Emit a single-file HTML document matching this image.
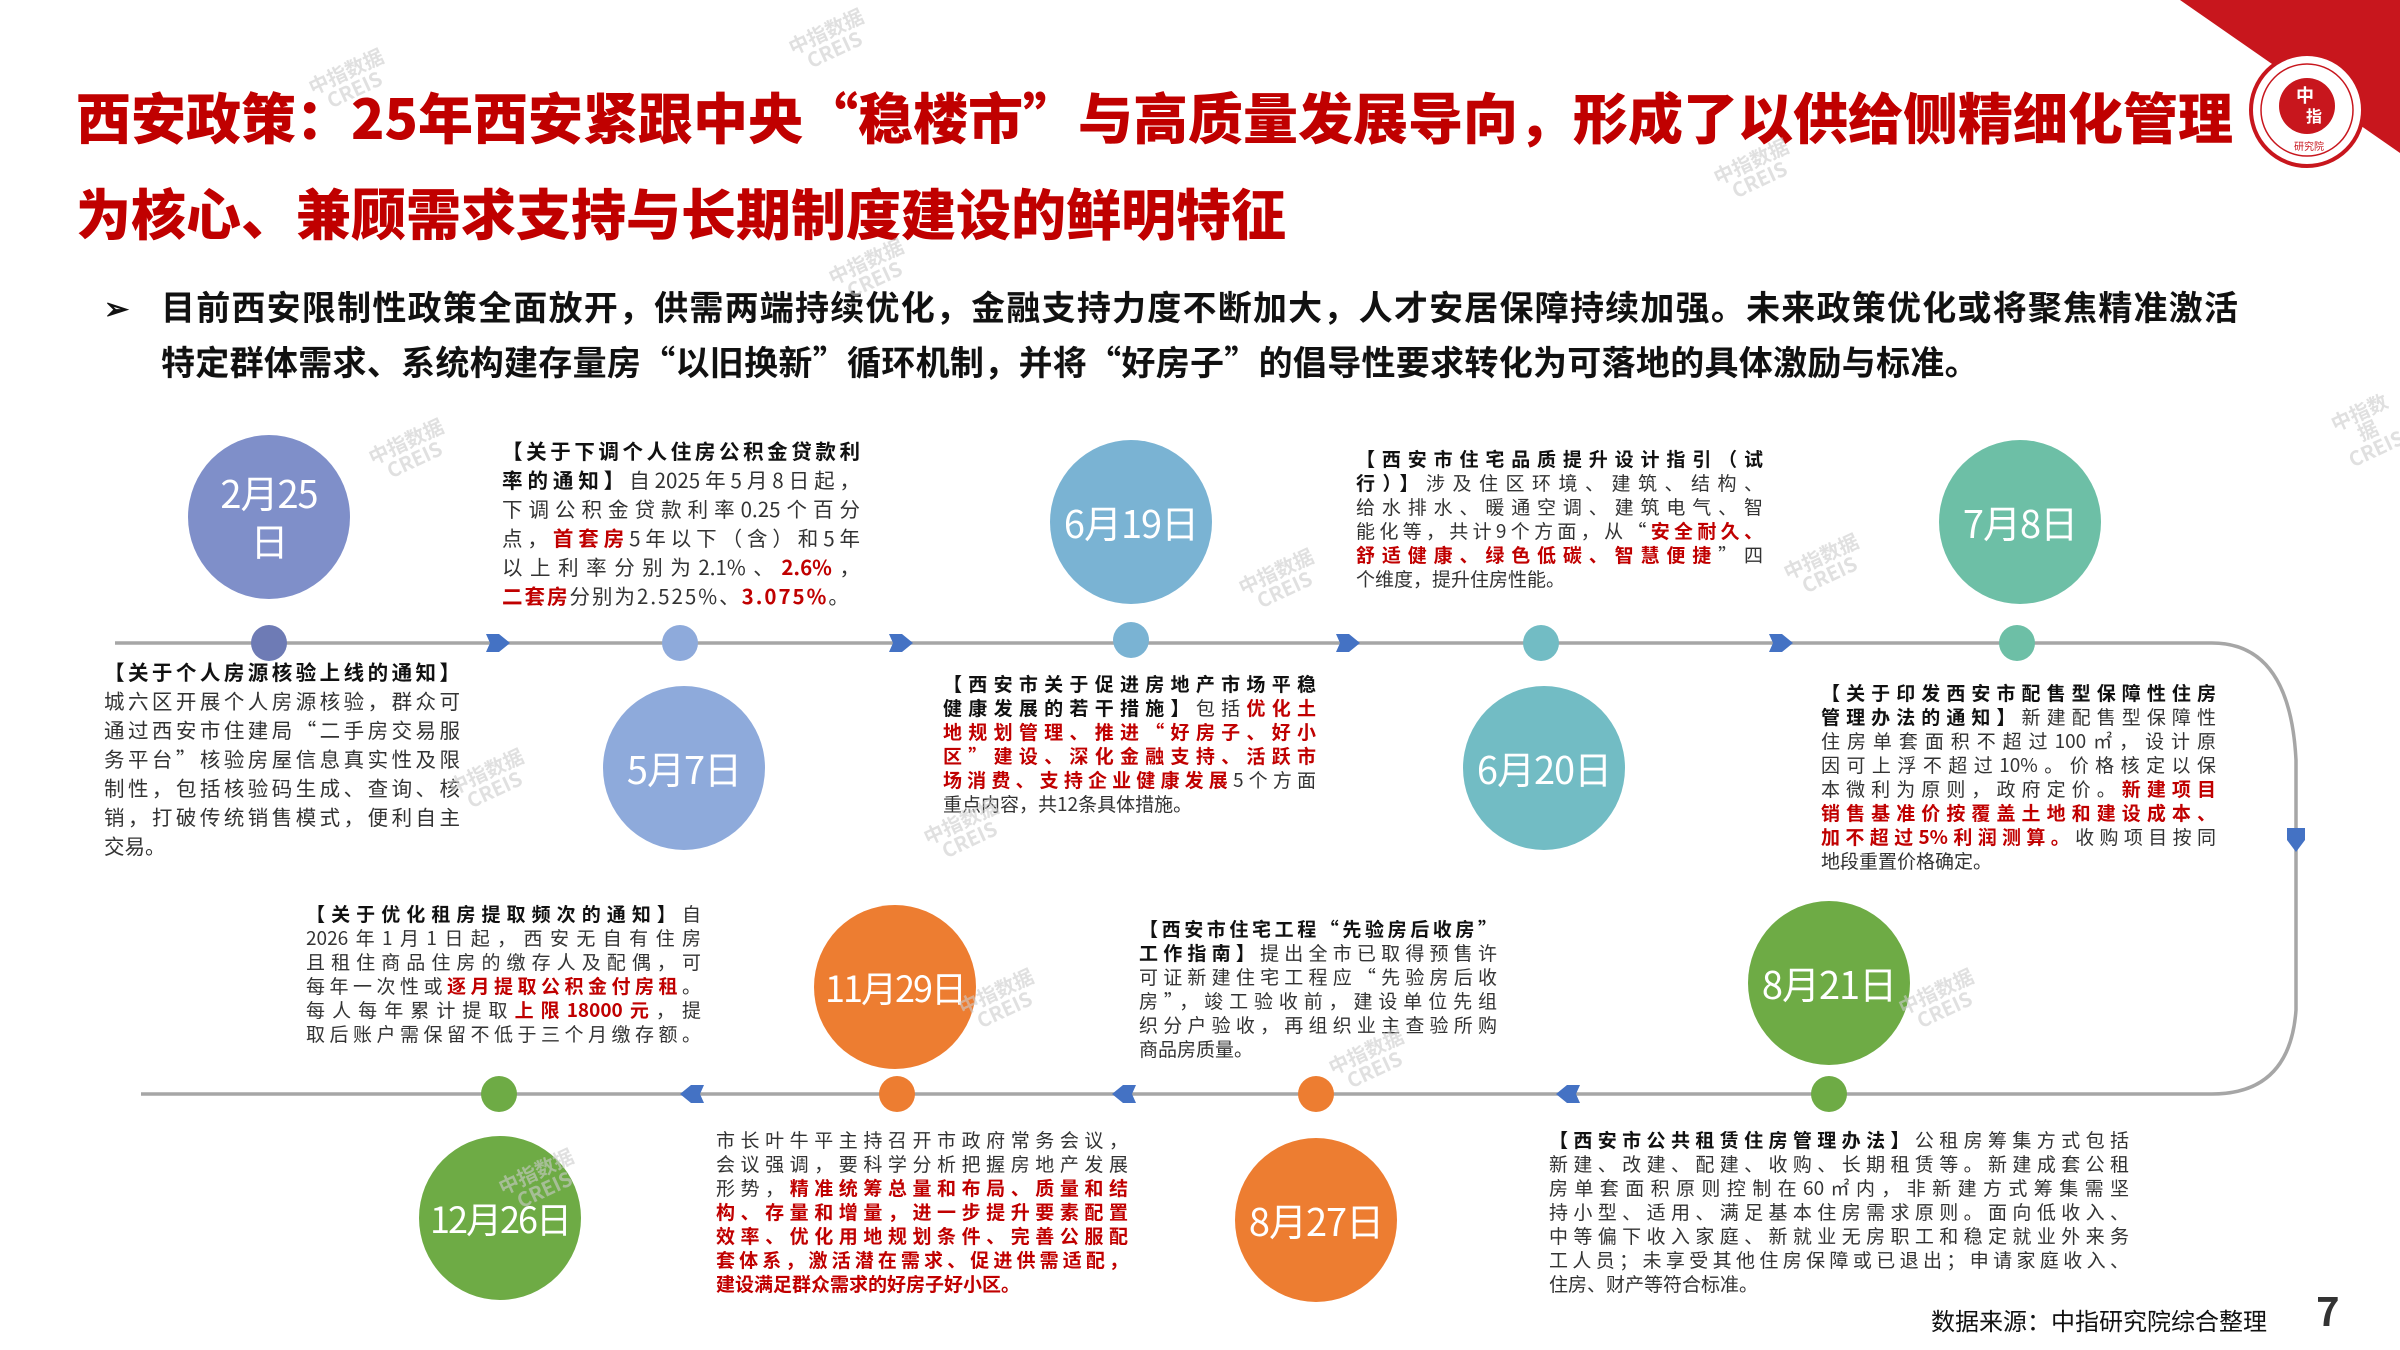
<!DOCTYPE html>
<html><head><meta charset="utf-8"><style>
*{margin:0;padding:0;box-sizing:border-box}
body{width:2400px;height:1350px;background:#fff;position:relative;overflow:hidden;font-family:"Noto Sans CJK SC","Liberation Sans",sans-serif;color:#333}
.t{position:absolute;left:76px;color:#c00000;font-weight:900;font-size:55px;white-space:nowrap;line-height:70px}
.b{position:absolute;left:161px;font-weight:700;font-size:34px;color:#111;white-space:nowrap;line-height:50px}
.blk{position:absolute;font-size:19px;color:#333;line-height:24px}
.blk div{text-align:justify;text-align-last:justify;white-space:nowrap;overflow:visible;height:24px}
.blk div.l{text-align-last:left}
.blk.big{font-size:20.5px;line-height:29px}
.blk.big div{height:29px}
.blk b{color:#111}
.r{color:#c00000;font-weight:700}
.dt{position:absolute;color:#fff;font-size:38px;text-align:center;width:170px;line-height:48px;font-weight:400;letter-spacing:-1px}
.wm{position:absolute;color:#ccc;font-size:20px;transform:rotate(-25deg);opacity:.6;line-height:20px;text-align:center;font-weight:700}
</style></head><body>
<svg width="2400" height="1350" style="position:absolute;left:0;top:0">
<polygon points="2180,0 2400,0 2400,153" fill="#c8161d"/>
<circle cx="2307" cy="110" r="56" fill="#fff" stroke="#c8161d" stroke-width="4"/>
<circle cx="2307" cy="110" r="46" fill="none" stroke="#c8161d" stroke-width="1.5"/>
<circle cx="2307" cy="106" r="28" fill="#c8161d"/>
<text x="2296" y="102" fill="#fff" font-size="18" font-weight="700" font-family="Noto Sans CJK SC">中</text>
<text x="2306" y="122" fill="#fff" font-size="16" font-weight="700" font-family="Noto Sans CJK SC">指</text>
<text x="2294" y="150" fill="#c8161d" font-size="10" font-family="Noto Sans CJK SC">研究院</text>
<g stroke="#a6a6a6" stroke-width="3.5" fill="none">
<line x1="115" y1="643" x2="2212" y2="643"/>
<path d="M2212,643 Q2290,643 2296,760 L2296,1010 Q2290,1094 2212,1094"/>
<line x1="141" y1="1094" x2="2212" y2="1094"/>
</g>
<g fill="#4472c4">
<polygon points="486,634 499,634 510,643 499,652 486,652 490,643"/>
<polygon points="889,634 902,634 913,643 902,652 889,652 893,643"/>
<polygon points="1336,634 1349,634 1360,643 1349,652 1336,652 1340,643"/>
<polygon points="1769,634 1782,634 1793,643 1782,652 1769,652 1773,643"/>
<polygon points="1580,1085 1567,1085 1556,1094 1567,1103 1580,1103 1576,1094"/>
<polygon points="1136,1085 1123,1085 1112,1094 1123,1103 1136,1103 1132,1094"/>
<polygon points="704,1085 691,1085 680,1094 691,1103 704,1103 700,1094"/>
<polygon points="2287,828 2305,828 2305,840 2296,852 2287,840"/>
</g>
<g>
<ellipse cx="269" cy="517" rx="81" ry="82" fill="#7f8fc9"/><circle cx="269" cy="643" r="18" fill="#6e7bb5"/>
<ellipse cx="684" cy="768" rx="81" ry="82" fill="#8eaadb"/><circle cx="680" cy="643" r="18" fill="#8eaadb"/>
<ellipse cx="1131" cy="522" rx="81" ry="82" fill="#7ab3d3"/><circle cx="1131" cy="640" r="18" fill="#7ab3d3"/>
<ellipse cx="1544" cy="768" rx="81" ry="82" fill="#72bcc4"/><circle cx="1541" cy="643" r="18" fill="#72bcc4"/>
<ellipse cx="2020" cy="522" rx="81" ry="82" fill="#6dbfa6"/><circle cx="2017" cy="643" r="18" fill="#6dbfa6"/>
<ellipse cx="1829" cy="983" rx="81" ry="82" fill="#6eab45"/><circle cx="1829" cy="1094" r="18" fill="#6eab45"/>
<ellipse cx="895" cy="987" rx="81" ry="82" fill="#ed7d31"/><circle cx="897" cy="1094" r="18" fill="#ed7d31"/>
<ellipse cx="1316" cy="1220" rx="81" ry="82" fill="#ed7d31"/><circle cx="1316" cy="1094" r="18" fill="#ed7d31"/>
<ellipse cx="500" cy="1218" rx="81" ry="82" fill="#6eab45"/><circle cx="499" cy="1094" r="18" fill="#6eab45"/>
</g>
</svg>

<div class="t" style="top:80px">西安政策：25年西安紧跟中央“稳楼市”与高质量发展导向，形成了以供给侧精细化管理</div>
<div class="t" style="top:176px">为核心、兼顾需求支持与长期制度建设的鲜明特征</div>
<div class="b" style="left:104px;top:281px;font-size:30px">➢</div>
<div class="b" style="top:281px;width:2077px;text-align:justify;text-align-last:justify">目前西安限制性政策全面放开，供需两端持续优化，金融支持力度不断加大，人才安居保障持续加强。未来政策优化或将聚焦精准激活</div>
<div class="b" style="top:336px;letter-spacing:0.3px">特定群体需求、系统构建存量房“以旧换新”循环机制，并将“好房子”的倡导性要求转化为可落地的具体激励与标准。</div>

<div class="dt" style="left:184px;top:468px">2月25<br>日</div>
<div class="dt" style="left:599px;top:744px">5月7日</div>
<div class="dt" style="left:1046px;top:498px">6月19日</div>
<div class="dt" style="left:1459px;top:744px">6月20日</div>
<div class="dt" style="left:1935px;top:498px">7月8日</div>
<div class="dt" style="left:1744px;top:959px">8月21日</div>
<div class="dt" style="left:810px;top:963px;font-size:36px;letter-spacing:-2px">11月29日</div>
<div class="dt" style="left:1231px;top:1196px">8月27日</div>
<div class="dt" style="left:415px;top:1194px;font-size:36px;letter-spacing:-2px">12月26日</div>

<div class="blk big" style="left:104px;top:657px;width:356px">
<div><b>【关于个人房源核验上线的通知】</b></div>
<div>城六区开展个人房源核验，群众可</div>
<div>通过西安市住建局“二手房交易服</div>
<div>务平台”核验房屋信息真实性及限</div>
<div>制性，包括核验码生成、查询、核</div>
<div>销，打破传统销售模式，便利自主</div>
<div class="l">交易。</div>
</div>

<div class="blk big" style="left:502px;top:436px;width:358px">
<div><b>【关于下调个人住房公积金贷款利</b></div>
<div><b>率的通知】</b>自2025年5月8日起，</div>
<div>下调公积金贷款利率0.25个百分</div>
<div>点，<span class="r">首套房</span>5年以下（含）和5年</div>
<div>以上利率分别为2.1%、<span class="r">2.6%</span>，</div>
<div class="l" style="letter-spacing:2px"><span class="r">二套房</span>分别为2.525%、<span class="r">3.075%</span>。</div>
</div>

<div class="blk" style="left:943px;top:672px;width:373px">
<div><b>【西安市关于促进房地产市场平稳</b></div>
<div><b>健康发展的若干措施】</b>包括<span class="r">优化土</span></div>
<div><span class="r">地规划管理、推进“好房子、好小</span></div>
<div><span class="r">区”建设、深化金融支持、活跃市</span></div>
<div><span class="r">场消费、支持企业健康发展</span>5个方面</div>
<div class="l">重点内容，共12条具体措施。</div>
</div>

<div class="blk" style="left:1356px;top:447px;width:407px">
<div><b>【西安市住宅品质提升设计指引（试</b></div>
<div><b>行）】</b>涉及住区环境、建筑、结构、</div>
<div>给水排水、暖通空调、建筑电气、智</div>
<div>能化等，共计9个方面，从“<span class="r">安全耐久、</span></div>
<div><span class="r">舒适健康、绿色低碳、智慧便捷</span>”四</div>
<div class="l">个维度，提升住房性能。</div>
</div>

<div class="blk" style="left:1821px;top:681px;width:395px">
<div><b>【关于印发西安市配售型保障性住房</b></div>
<div><b>管理办法的通知】</b>新建配售型保障性</div>
<div>住房单套面积不超过100㎡，设计原</div>
<div>因可上浮不超过10%。价格核定以保</div>
<div>本微利为原则，政府定价。<span class="r">新建项目</span></div>
<div><span class="r">销售基准价按覆盖土地和建设成本、</span></div>
<div><span class="r">加不超过5%利润测算。</span>收购项目按同</div>
<div class="l">地段重置价格确定。</div>
</div>

<div class="blk" style="left:306px;top:902px;width:395px">
<div><b>【关于优化租房提取频次的通知】</b>自</div>
<div>2026年1月1日起，西安无自有住房</div>
<div>且租住商品住房的缴存人及配偶，可</div>
<div>每年一次性或<span class="r">逐月提取公积金付房租</span>。</div>
<div>每人每年累计提取<span class="r">上限18000元</span>，提</div>
<div>取后账户需保留不低于三个月缴存额。</div>
</div>

<div class="blk" style="left:716px;top:1128px;width:412px">
<div>市长叶牛平主持召开市政府常务会议，</div>
<div>会议强调，要科学分析把握房地产发展</div>
<div>形势，<span class="r">精准统筹总量和布局、质量和结</span></div>
<div><span class="r">构、存量和增量，进一步提升要素配置</span></div>
<div><span class="r">效率、优化用地规划条件、完善公服配</span></div>
<div><span class="r">套体系，激活潜在需求、促进供需适配，</span></div>
<div class="l"><span class="r">建设满足群众需求的好房子好小区。</span></div>
</div>

<div class="blk" style="left:1139px;top:917px;width:358px">
<div><b>【西安市住宅工程“先验房后收房”</b></div>
<div><b>工作指南】</b>提出全市已取得预售许</div>
<div>可证新建住宅工程应“先验房后收</div>
<div>房”，竣工验收前，建设单位先组</div>
<div>织分户验收，再组织业主查验所购</div>
<div class="l">商品房质量。</div>
</div>

<div class="blk" style="left:1549px;top:1128px;width:580px">
<div><b>【西安市公共租赁住房管理办法】</b>公租房筹集方式包括</div>
<div>新建、改建、配建、收购、长期租赁等。新建成套公租</div>
<div>房单套面积原则控制在60㎡内，非新建方式筹集需坚</div>
<div>持小型、适用、满足基本住房需求原则。面向低收入、</div>
<div>中等偏下收入家庭、新就业无房职工和稳定就业外来务</div>
<div>工人员；未享受其他住房保障或已退出；申请家庭收入、</div>
<div class="l">住房、财产等符合标准。</div>
</div>

<div style="position:absolute;left:1931px;top:1302px;font-size:24px;color:#111;white-space:nowrap">数据来源：中指研究院综合整理</div>
<div style="position:absolute;left:2316px;top:1280px;font-size:40px;font-weight:700;color:#333">7</div>

<div class="wm" style="left:370px;top:430px">中指数据<br>CREIS</div>
<div class="wm" style="left:790px;top:20px">中指数据<br>CREIS</div>
<div class="wm" style="left:310px;top:60px">中指数据<br>CREIS</div>
<div class="wm" style="left:1715px;top:150px">中指数据<br>CREIS</div>
<div class="wm" style="left:830px;top:250px">中指数据<br>CREIS</div>
<div class="wm" style="left:1240px;top:560px">中指数据<br>CREIS</div>
<div class="wm" style="left:1785px;top:545px">中指数据<br>CREIS</div>
<div class="wm" style="left:450px;top:760px">中指数据<br>CREIS</div>
<div class="wm" style="left:925px;top:810px">中指数据<br>CREIS</div>
<div class="wm" style="left:960px;top:980px">中指数据<br>CREIS</div>
<div class="wm" style="left:1330px;top:1040px">中指数据<br>CREIS</div>
<div class="wm" style="left:1900px;top:980px">中指数据<br>CREIS</div>
<div class="wm" style="left:500px;top:1160px">中指数据<br>CREIS</div>
<div class="wm" style="left:2335px;top:400px">中指数据<br>CREIS</div>
</body></html>
